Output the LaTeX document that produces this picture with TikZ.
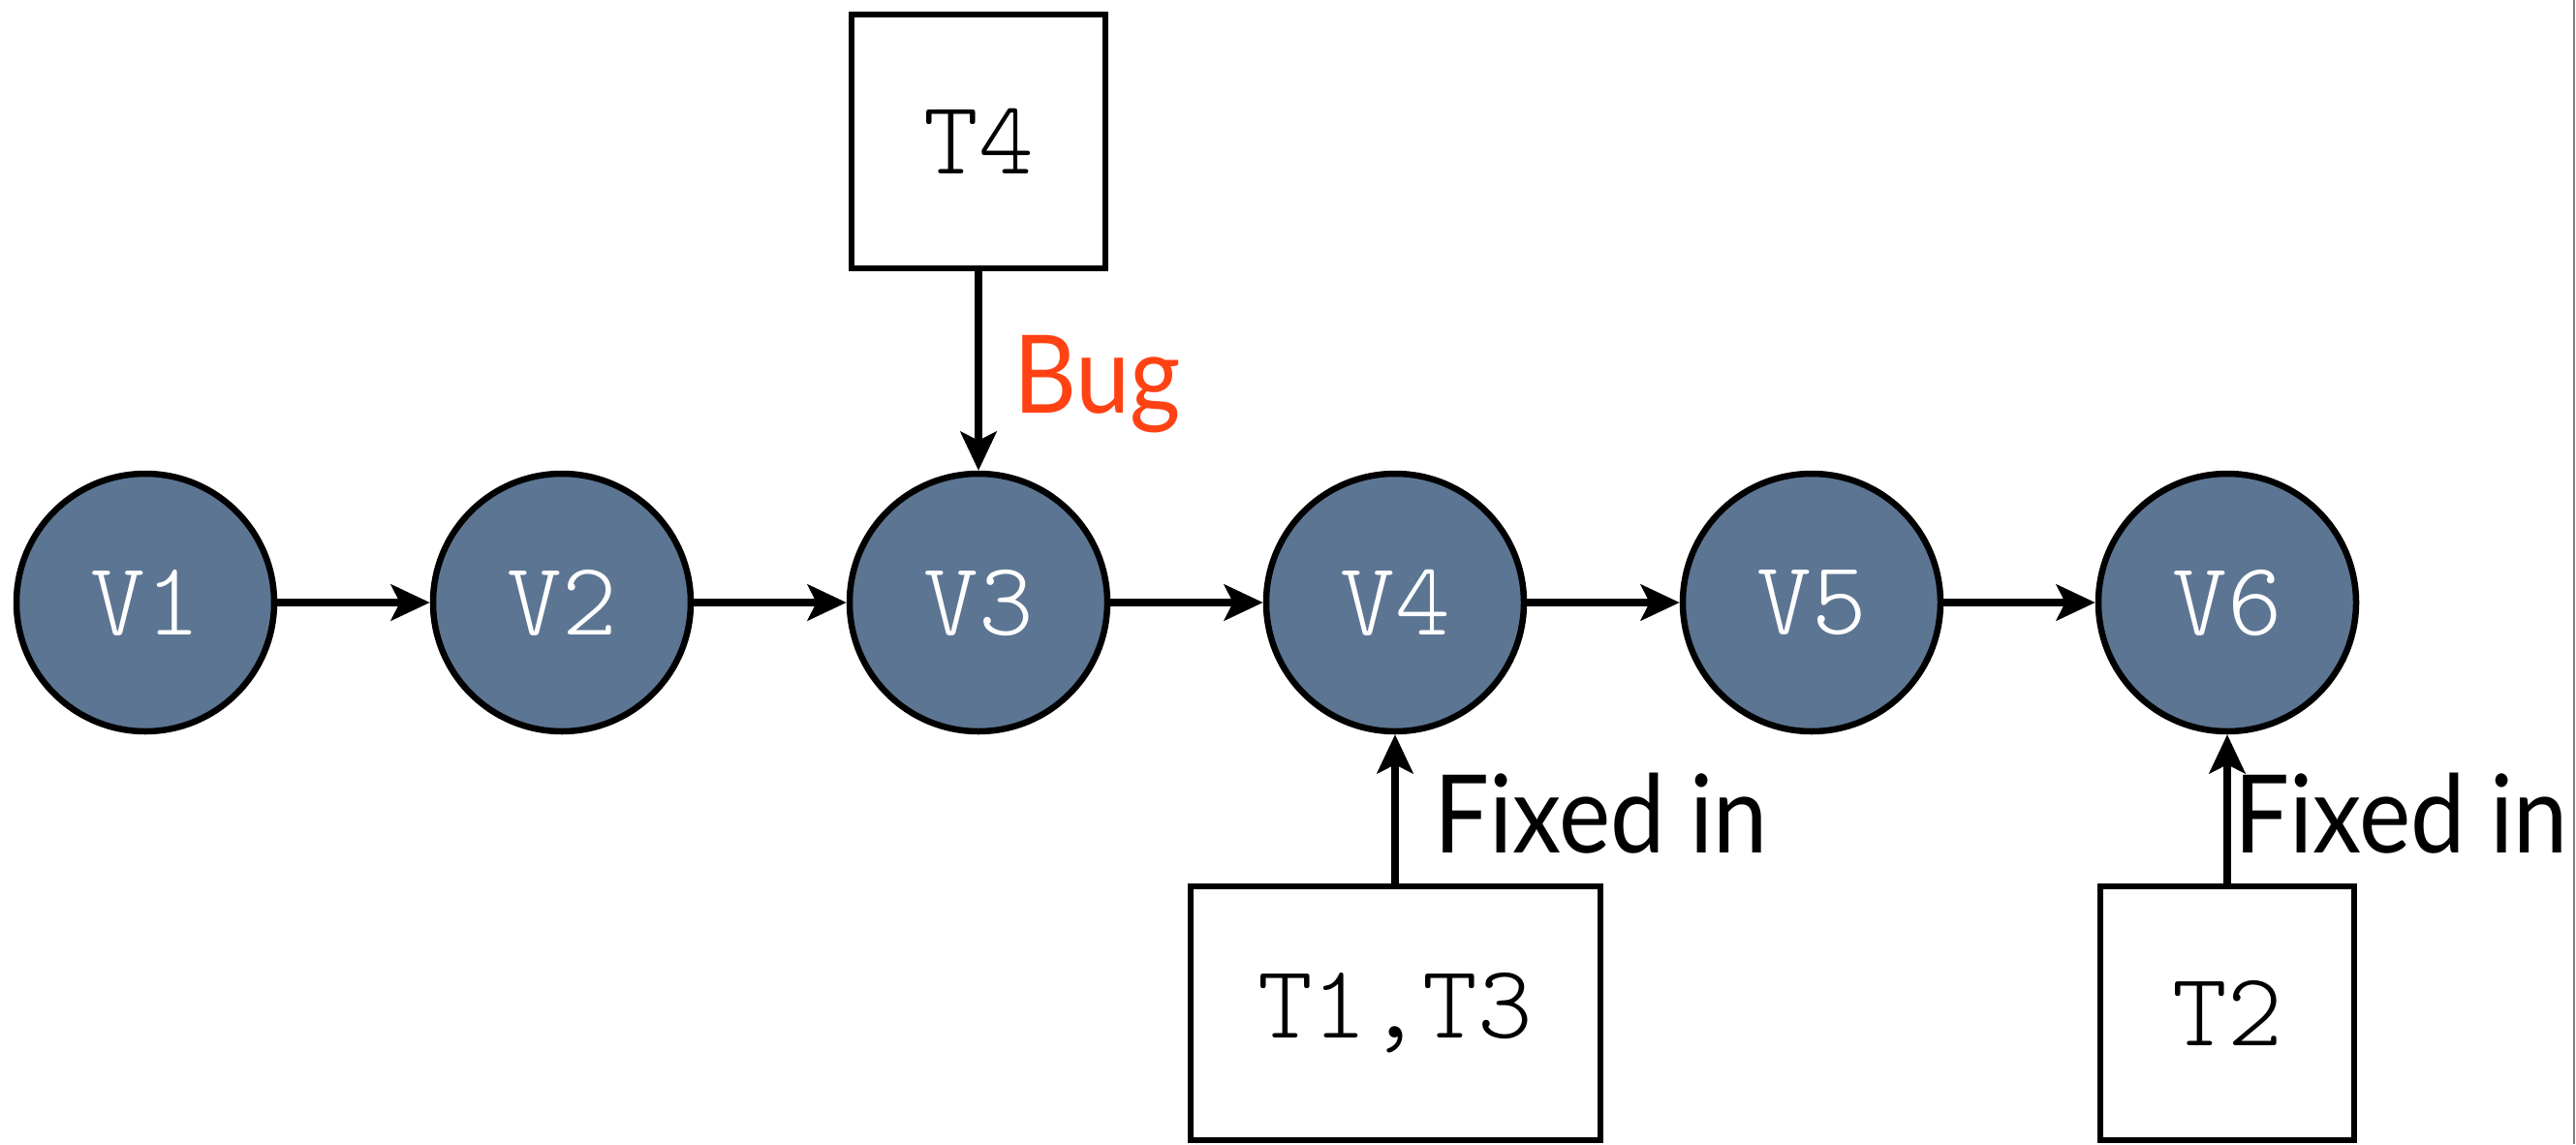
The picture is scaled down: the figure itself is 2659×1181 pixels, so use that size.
\documentclass[tikz,border=0pt]{standalone}
\usepackage{fontspec}
\newfontfamily\labelfont{Lato}
\newfontfamily\monolight{Latin Modern Mono Light}
\usetikzlibrary{arrows.meta}
\definecolor{vfill}{RGB}{92,117,146}
\definecolor{bugred}{RGB}{255,66,20}
\begin{document}
\begin{tikzpicture}[x=1pt,y=-1pt,
  ver/.style={circle,draw=black,line width=6.5pt,fill=vfill,minimum size=266pt,inner sep=0pt,text=white,font=\fontsize{108}{120}\selectfont\monolight},
  tbox/.style={rectangle,draw=black,line width=6pt,fill=white,minimum height=262pt,minimum width=262pt,inner sep=0pt,font=\fontsize{108}{120}\selectfont\monolight},
  conn/.style={line width=8pt,-{Stealth[length=40pt,width=37pt,inset=9pt]}},
  lbl/.style={anchor=base west,inner sep=0pt,xscale=0.9,transform shape,font=\fontsize{112}{130}\selectfont\labelfont}]
\useasboundingbox (0,0) rectangle (2659,1181);
\node[ver] (V1) at (150,622) {V1};
\node[ver] (V2) at (580,622) {V2};
\node[ver] (V3) at (1010,622) {V3};
\node[ver] (V4) at (1440,622) {V4};
\node[ver] (V5) at (1870,622) {V5};
\node[ver] (V6) at (2299,622) {V6};
\node[tbox] (T4) at (1010,146) {T4};
\node[tbox,minimum width=423pt] (T13) at (1440,1046) {T1,T3};
\node[tbox] (T2) at (2299,1046) {T2};
\draw[conn] (V1) -- (V2);
\draw[conn] (V2) -- (V3);
\draw[conn] (V3) -- (V4);
\draw[conn] (V4) -- (V5);
\draw[conn] (V5) -- (V6);
\draw[conn] (T4) -- (V3);
\draw[conn] (T13) -- (V4);
\draw[conn] (T2) -- (V6);
\node[lbl,text=bugred] (bug) at (1046,426) {Bug};
\node[lbl] (fix1) at (1480,880) {Fixed in};
\node[lbl] (fix2) at (2306,880) {Fixed in};
\draw[gray,line width=2pt] (2657,0) -- (2657,1181);
\end{tikzpicture}
\end{document}
